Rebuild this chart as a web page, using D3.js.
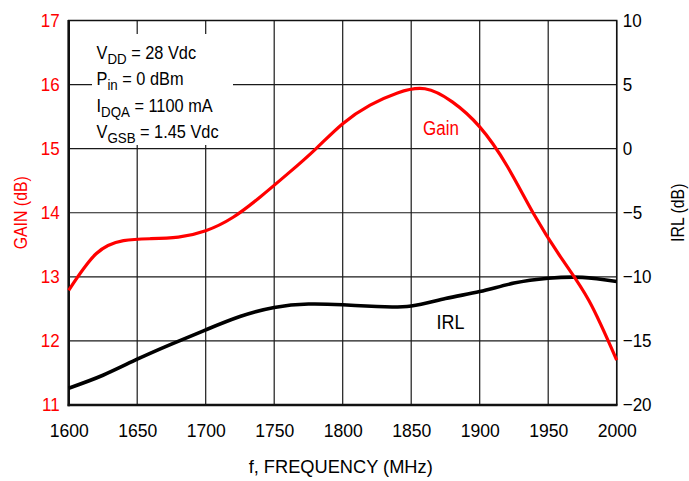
<!DOCTYPE html>
<html>
<head>
<meta charset="utf-8">
<script src="https://cdn.jsdelivr.net/npm/d3@7"></script>
<style>
  html, body { margin: 0; padding: 0; background: #fff; }
  svg text { font-family: "Liberation Sans", Arial, Helvetica, sans-serif; }
</style>
</head>
<body>
<svg id="chart" width="689" height="481"></svg>
<script>
// ---- data ----
const gainFreq = [1600,1620,1640,1660,1680,1700,1720,1740,1760,1780,1800,1820,1840,1860,1880,1900,1920,1940,1960,1980,2000];
const gainDb   = [12.79,13.36,13.565,13.595,13.62,13.72,13.93,14.25,14.61,14.99,15.39,15.68,15.87,15.935,15.73,15.34,14.73,13.96,13.28,12.62,11.70];
const irlFreq  = [1600,1625,1650,1675,1700,1725,1750,1775,1800,1825,1850,1875,1900,1925,1950,1975,2000];
const irlDb    = [-18.69,-17.68,-16.43,-15.25,-14.14,-13.10,-12.39,-12.12,-12.18,-12.32,-12.27,-11.69,-11.15,-10.49,-10.11,-10.04,-10.37];
const xTicks   = [1600,1650,1700,1750,1800,1850,1900,1950,2000];
const gainTicks = [11,12,13,14,15,16,17];
const irlTicks  = [-20,-15,-10,-5,0,5,10];
const notes = [["V","DD"," = 28 Vdc"],["P","in"," = 0 dBm"],["I","DQA"," = 1100 mA"],["V","GSB"," = 1.45 Vdc"]];

// ---- layout ----
const L = 68.7, R = 616.7, T = 20.5, B = 405;
const svg = d3.select("#chart");
const x = d3.scaleLinear().domain([1600, 2000]).range([L, R]);
const yG = d3.scaleLinear().domain([11, 17]).range([B, T]);
const yI = d3.scaleLinear().domain([-20, 10]).range([B, T]);
const RED = "#ff0000";

function squeeze(sel, f) {
  sel.each(function () {
    const w = this.getComputedTextLength();
    d3.select(this).attr("textLength", w * f).attr("lengthAdjust", "spacingAndGlyphs");
  });
}

// grid
const grid = svg.append("g").attr("stroke", "#1a1a1a").attr("stroke-width", 1.2);
xTicks.forEach(t => grid.append("line").attr("x1", x(t)).attr("x2", x(t)).attr("y1", T).attr("y2", B));
gainTicks.forEach(t => grid.append("line").attr("x1", L).attr("x2", R).attr("y1", yG(t)).attr("y2", yG(t)));

// annotation box (masks grid)
svg.append("rect").attr("x", 92).attr("y", 34).attr("width", 141).attr("height", 111).attr("fill", "#fff");

// frame
svg.append("rect").attr("x", L).attr("y", T).attr("width", R - L).attr("height", B - T)
  .attr("fill", "none").attr("stroke", "#111").attr("stroke-width", 1.5);
svg.append("line").attr("x1", L).attr("x2", L).attr("y1", T - 0.5).attr("y2", B + 1.2).attr("stroke", "#111").attr("stroke-width", 2.6);
svg.append("line").attr("x1", L - 1).attr("x2", R + 0.7).attr("y1", B).attr("y2", B).attr("stroke", "#111").attr("stroke-width", 2.6);

// axes (labels only)
const axB = svg.append("g").attr("transform", `translate(0,${B})`)
  .call(d3.axisBottom(x).tickValues(xTicks).tickSize(0).tickPadding(19).tickFormat(d3.format("d")));
axB.select(".domain").remove();
axB.selectAll("text").attr("font-size", 18.5).attr("fill", "#000").attr("font-family", null);
squeeze(axB.selectAll("text"), 0.95);

const axL = svg.append("g").attr("transform", `translate(${L},0)`)
  .call(d3.axisLeft(yG).tickValues(gainTicks).tickSize(0).tickPadding(9).tickFormat(d3.format("d")));
axL.select(".domain").remove();
axL.selectAll("text").attr("font-size", 18.5).attr("fill", RED).attr("font-family", null);
squeeze(axL.selectAll("text"), 0.92);

const axR = svg.append("g").attr("transform", `translate(${R},0)`)
  .call(d3.axisRight(yI).tickValues(irlTicks).tickSize(0).tickPadding(6).tickFormat(d => d < 0 ? "\u2212" + Math.abs(d) : d));
axR.select(".domain").remove();
axR.selectAll("text").attr("font-size", 18.5).attr("fill", "#000").attr("font-family", null);
squeeze(axR.selectAll("text"), 0.92);

// axis titles
const tX = svg.append("text").attr("x", (L + R) / 2 - 2).attr("y", 473).attr("text-anchor", "middle")
  .attr("font-size", 19).text("f, FREQUENCY (MHz)");
squeeze(tX, 0.96);
const tL = svg.append("text").attr("transform", `translate(27,${(T + B) / 2}) rotate(-90)`).attr("text-anchor", "middle")
  .attr("font-size", 18).attr("fill", RED).text("GAIN (dB)");
squeeze(tL, 0.88);
const tR = svg.append("text").attr("transform", `translate(684,${(T + B) / 2}) rotate(-90)`).attr("text-anchor", "middle")
  .attr("font-size", 18).attr("fill", "#000").text("IRL (dB)");
squeeze(tR, 0.88);

// curves
const lineG = d3.line().x((d, i) => x(gainFreq[i])).y(d => yG(d)).curve(d3.curveNatural);
const lineI = d3.line().x((d, i) => x(irlFreq[i])).y(d => yI(d)).curve(d3.curveNatural);
svg.append("path").datum(irlDb).attr("d", lineI).attr("fill", "none").attr("stroke", "#000").attr("stroke-width", 3.6);
svg.append("path").datum(gainDb).attr("d", lineG).attr("fill", "none").attr("stroke", RED).attr("stroke-width", 3.2);

// curve labels
const gl = svg.append("text").attr("x", 423).attr("y", 135).attr("font-size", 19.5).attr("fill", RED).text("Gain");
squeeze(gl, 0.87);
const il = svg.append("text").attr("x", 436.5).attr("y", 329).attr("font-size", 19.5).attr("fill", "#000").text("IRL");
squeeze(il, 0.92);

// notes
notes.forEach((n, i) => {
  const t = svg.append("text").attr("transform", `translate(96.5,${58.5 + i * 26.6}) scale(0.86,1)`)
    .attr("font-size", 19).attr("fill", "#000");
  t.append("tspan").text(n[0]);
  t.append("tspan").attr("font-size", 15.5).attr("dy", 5).text(n[1]);
  t.append("tspan").attr("dy", -5).text(n[2]);
});
</script>
</body>
</html>
